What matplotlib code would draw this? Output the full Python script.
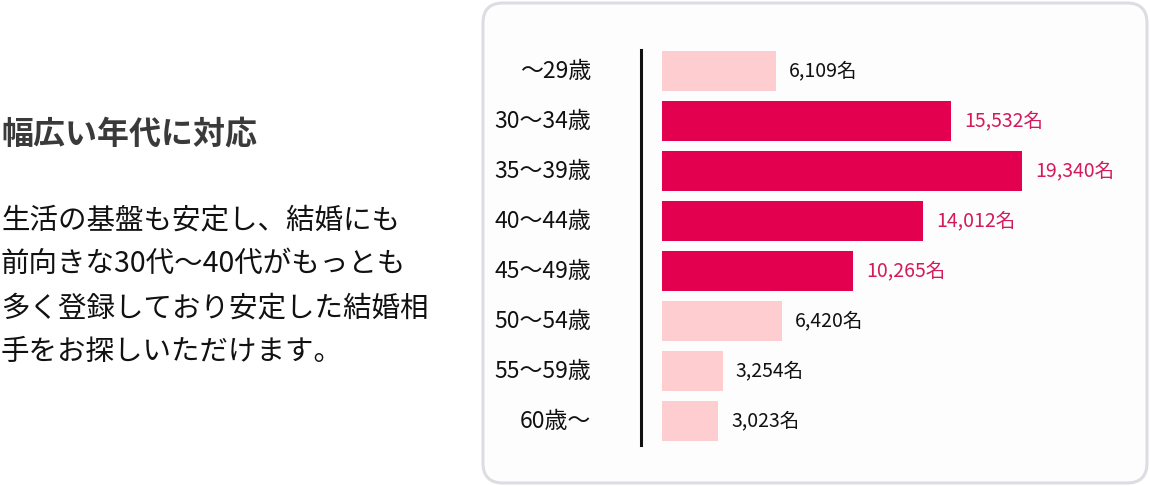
import matplotlib
matplotlib.use('Agg')
import matplotlib.pyplot as plt
from matplotlib.patches import FancyBboxPatch

plt.rcParams['font.family'] = ['Noto Sans CJK JP', 'DejaVu Sans']

# data
ages = ['～29歳', '30～34歳', '35～39歳', '40～44歳', '45～49歳', '50～54歳', '55～59歳', '60歳～']
members = [6109, 15532, 19340, 14012, 10265, 6420, 3254, 3023]
highlight = [False, True, True, True, True, False, False, False]

title = '幅広い年代に対応'
body = ['生活の基盤も安定し、結婚にも',
        '前向きな30代～40代がもっとも',
        '多く登録しており安定した結婚相',
        '手をお探しいただけます。']

dark = '#e3004e'
light = '#fdcdd0'
W, H = 1150, 486

fig = plt.figure(figsize=(W / 100, H / 100), dpi=100)
fig.patch.set_facecolor('white')

# rounded panel behind the chart
panel = FancyBboxPatch((483, 3), 664, 480, boxstyle='round,pad=0,rounding_size=20',
                       transform=None, facecolor='#fdfdfe', edgecolor='#dcdde3',
                       linewidth=2.2, zorder=-5)
fig.patches.append(panel)

# left text
fig.text(1 / W, 1 - 134 / H, title, fontsize=23, fontweight='bold', color='#3a3a3a',
         va='center', ha='left')
for i, line in enumerate(body):
    fig.text(1 / W, 1 - (220 + i * 44) / H, line, fontsize=20.5, color='#111111',
             va='center', ha='left')

# bar chart
ax = fig.add_axes([662 / W, 1 - 446 / H, 438 / W, 400 / H], zorder=2)
ax.set_facecolor('none')
colors = [dark if h else light for h in highlight]
ax.barh(range(len(ages)), members, height=0.8, color=colors)
ax.set_ylim(7.5, -0.5)
ax.set_xlim(0, 19340 * 438 / 360)

for s in ['top', 'right', 'bottom']:
    ax.spines[s].set_visible(False)
ax.spines['left'].set_position(('outward', 15))
ax.spines['left'].set_linewidth(2.2)
ax.spines['left'].set_color('#111111')
ax.spines['left'].set_bounds(-0.42, 7.48)
ax.set_xticks([])
ax.set_yticks(range(len(ages)))
ax.set_yticklabels(ages, fontsize=16.5, color='#111111', va='center')
ax.tick_params(axis='y', length=0, pad=36)

for i, v in enumerate(members):
    ax.text(v + 700, i, f'{v:,}名', va='center', ha='left', fontsize=14,
            color='#d31a5a' if highlight[i] else '#111111')

fig.savefig('out.png', dpi=100)
